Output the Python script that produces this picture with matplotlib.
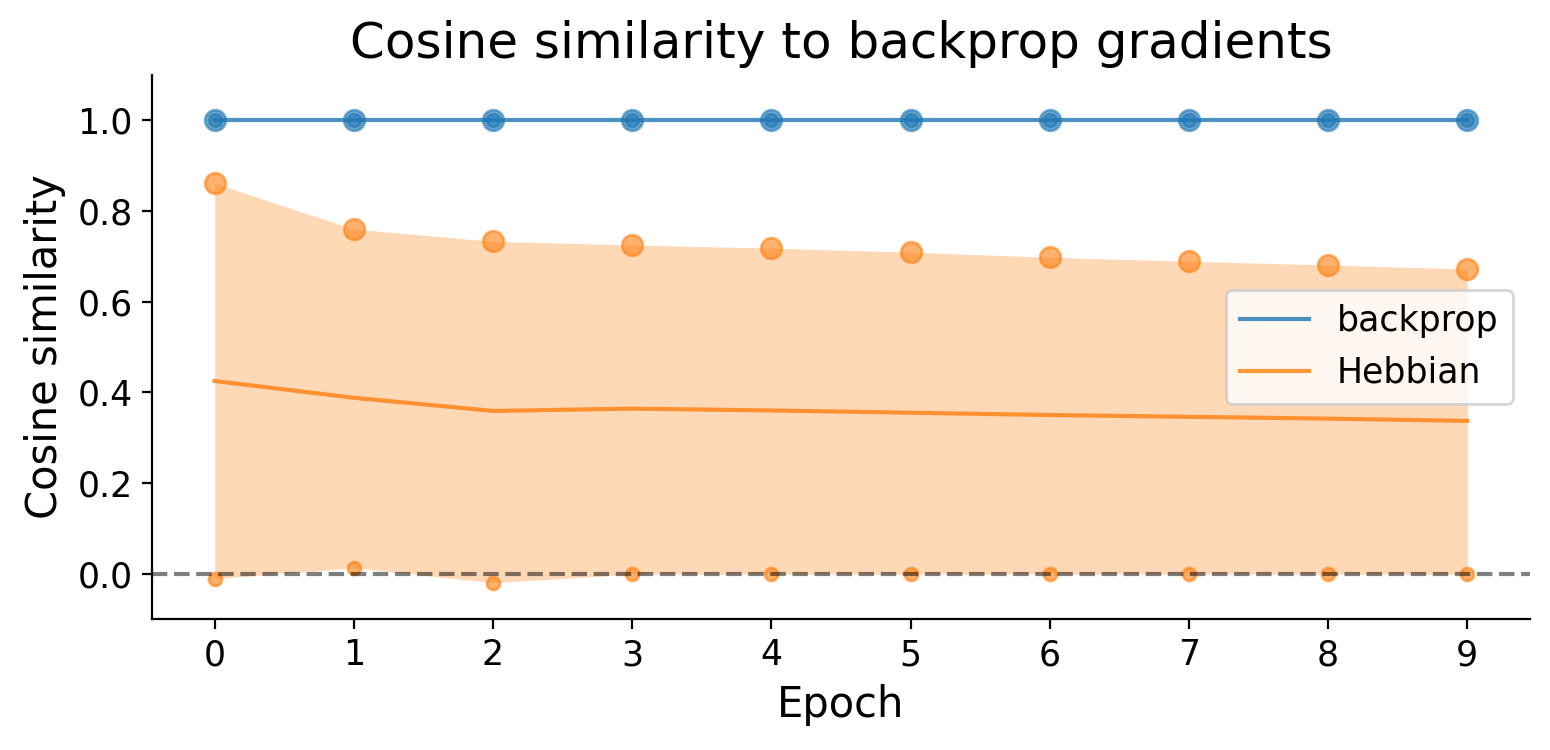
import matplotlib
matplotlib.use("Agg")
import matplotlib.pyplot as plt
import numpy as np

# data
epochs = np.arange(10)
backprop_mean = [1.0, 1.0, 1.0, 1.0, 1.0, 1.0, 1.0, 1.0, 1.0, 1.0]
backprop_max = [1.0, 1.0, 1.0, 1.0, 1.0, 1.0, 1.0, 1.0, 1.0, 1.0]
backprop_min = [1.0, 1.0, 1.0, 1.0, 1.0, 1.0, 1.0, 1.0, 1.0, 1.0]
hebb_mean = [0.425, 0.388, 0.359, 0.364, 0.360, 0.355, 0.350, 0.346, 0.342, 0.337]
hebb_max = [0.861, 0.760, 0.733, 0.725, 0.718, 0.709, 0.698, 0.689, 0.681, 0.672]
hebb_min = [-0.011, 0.013, -0.020, -0.001, -0.001, -0.001, -0.001, -0.001, -0.001, -0.001]

fig = plt.figure(figsize=(7.75, 3.75), dpi=200)
ax = fig.add_axes([152/1550, 1-619/750, (1530-152)/1550, (619-75)/750])

series = [("backprop", backprop_mean, backprop_min, backprop_max, "tab:blue"),
          ("Hebbian", hebb_mean, hebb_min, hebb_max, "tab:orange")]
for name, m, lo, hi, c in series:
    ax.plot(epochs, m, color=c, alpha=0.8, lw=1.5, label=name)
    ax.fill_between(epochs, lo, hi, color=c, alpha=0.3, lw=0)
    ax.scatter(epochs, hi, s=55, color=c, alpha=0.6)
    ax.scatter(epochs, lo, s=22, color=c, alpha=0.6)

ax.axhline(0, color="k", ls="--", alpha=0.5, lw=1.5)

ax.set_ylim(-0.1, 1.1)
ax.set_xticks(epochs)
ax.tick_params(labelsize=12.5)
ax.spines["top"].set_visible(False)
ax.spines["right"].set_visible(False)
ax.set_xlabel("Epoch", fontsize=15)
ax.set_ylabel("Cosine similarity", fontsize=15)
ax.set_title("Cosine similarity to backprop gradients", fontsize=18)
ax.legend(loc="center right", fontsize=12.5)

fig.savefig("out.png", dpi=200)
